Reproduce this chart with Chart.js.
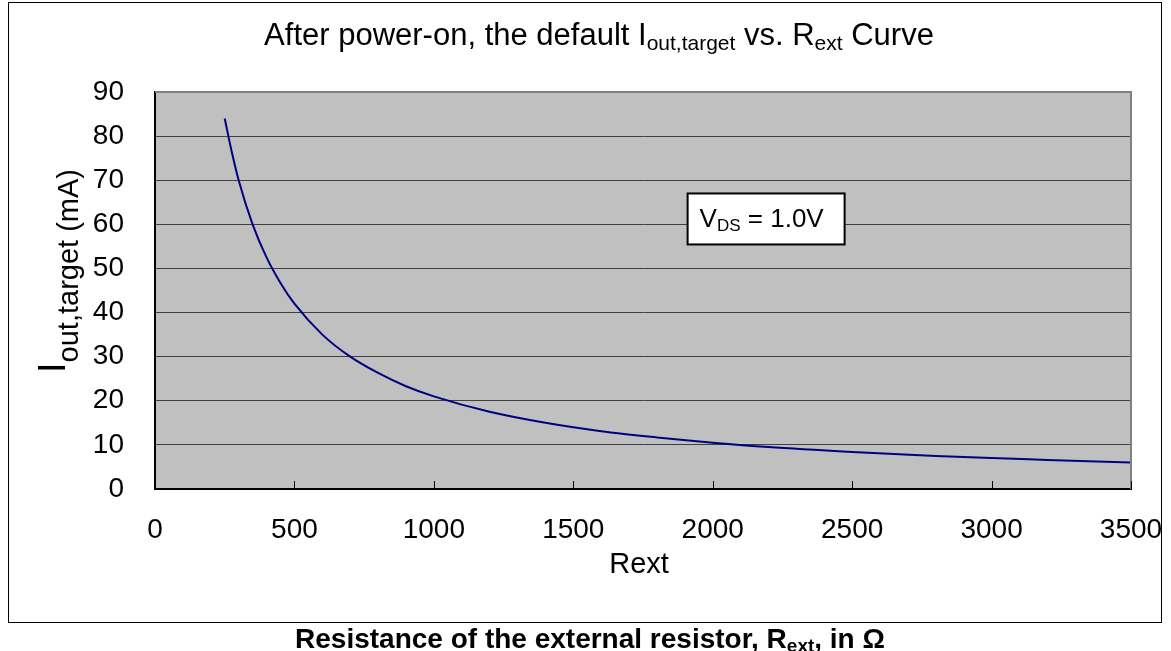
<!DOCTYPE html>
<html>
<head>
<meta charset="utf-8">
<script src="https://cdn.jsdelivr.net/npm/chart.js@4.4.1/dist/chart.umd.min.js"></script>
<style>
    body { margin: 0; background: #ffffff; }
    #wrap { width: 1171px; height: 651px; }
</style>
</head>
<body>
<div id="wrap"><canvas id="chart" width="1171" height="651"></canvas></div>
<script>
// values
const rext = [250, 275, 300, 350, 400, 450, 500, 600, 700, 800, 900, 1000, 1200, 1400, 1600, 1800, 2000, 2200, 2500, 2800, 3000, 3200, 3500];
const iout = [84, 76.5, 70, 60, 52.5, 46.7, 42, 35, 30, 26.3, 23.3, 21, 17.5, 15, 13.1, 11.7, 10.5, 9.5, 8.4, 7.5, 7, 6.6, 6];
const xTicks = [0, 500, 1000, 1500, 2000, 2500, 3000, 3500];
const yTicks = [0, 10, 20, 30, 40, 50, 60, 70, 80, 90];
const noteAt = { x: 1910, y: 67 };

const FONT = '"Liberation Sans", Arial, sans-serif';

function richWidth(ctx, parts) {
    let w = 0;
    parts.forEach(p => {
        ctx.font = (p.bold ? 'bold ' : '') + p.size + 'px ' + FONT;
        w += ctx.measureText(p.t).width;
    });
    return w;
}

function drawRich(ctx, parts, x, y, align) {
    let cx = x;
    if (align === 'center') cx = x - richWidth(ctx, parts) / 2;
    ctx.textAlign = 'left';
    ctx.textBaseline = 'alphabetic';
    parts.forEach(p => {
        ctx.font = (p.bold ? 'bold ' : '') + p.size + 'px ' + FONT;
        ctx.fillText(p.t, cx, y + (p.dy || 0));
        cx += ctx.measureText(p.t).width;
    });
}

const decor = {
    id: 'decor',
    beforeDraw(chart) {
        const ctx = chart.ctx;
        const a = chart.chartArea;
        ctx.save();
        ctx.fillStyle = '#ffffff';
        ctx.fillRect(0, 0, chart.width, chart.height);
        ctx.fillStyle = '#c0c0c0';
        ctx.fillRect(a.left, a.top, a.right - a.left, a.bottom - a.top);
        // outer frame
        ctx.strokeStyle = '#000000';
        ctx.lineWidth = 1;
        ctx.strokeRect(8.5, 2.5, 1153, 620);
        ctx.restore();
    },
    afterDatasetsDraw(chart) {
        const ctx = chart.ctx;
        const a = chart.chartArea;
        const xs = chart.scales.x;
        const ys = chart.scales.y;
        ctx.save();
        // top and right plot edges
        ctx.strokeStyle = '#808080';
        ctx.lineWidth = 2;
        ctx.beginPath();
        ctx.moveTo(a.left, a.top);
        ctx.lineTo(a.right, a.top);
        ctx.lineTo(a.right, a.bottom);
        ctx.stroke();
        // small inside tick marks on x axis
        ctx.strokeStyle = '#000000';
        ctx.lineWidth = 1;
        xTicks.forEach(v => {
            const px = Math.round(xs.getPixelForValue(v)) + 0.5;
            ctx.beginPath();
            ctx.moveTo(px, a.bottom);
            ctx.lineTo(px, a.bottom - 8);
            ctx.stroke();
        });

        // note box
        const bx = xs.getPixelForValue(noteAt.x);
        const by = ys.getPixelForValue(noteAt.y);
        ctx.fillStyle = '#ffffff';
        ctx.fillRect(bx, by, 157, 51);
        ctx.strokeStyle = '#000000';
        ctx.lineWidth = 2;
        ctx.strokeRect(bx, by, 157, 51);
        ctx.fillStyle = '#000000';
        drawRich(ctx, [
            { t: 'V', size: 26 },
            { t: 'DS', size: 17, dy: 4 },
            { t: ' = 1.0V', size: 26 }
        ], bx + 12, by + 34, 'left');

        // title
        drawRich(ctx, [
            { t: 'After power-on, the default I', size: 31 },
            { t: 'out,target', size: 21, dy: 5 },
            { t: ' vs. R', size: 31 },
            { t: 'ext', size: 21, dy: 5 },
            { t: ' Curve', size: 31 }
        ], 599, 45, 'center');

        // y axis title, rotated
        ctx.save();
        ctx.translate(0, 271);
        ctx.rotate(-Math.PI / 2);
        drawRich(ctx, [
            { t: 'I', size: 38 },
            { t: 'out,target (mA)', size: 29, dy: 13 }
        ], 0, 65, 'center');
        ctx.restore();

        // x axis title
        ctx.font = '29px ' + FONT;
        ctx.textAlign = 'center';
        ctx.textBaseline = 'alphabetic';
        ctx.fillText('Rext', 639, 573);

        // caption below frame
        drawRich(ctx, [
            { t: 'Resistance of the external resistor, R', size: 28, bold: true },
            { t: 'ext', size: 19, bold: true, dy: 4 },
            { t: ', in Ω', size: 28, bold: true }
        ], 590, 648, 'center');
        ctx.restore();
    }
};

new Chart(document.getElementById('chart').getContext('2d'), {
    type: 'scatter',
    data: {
        datasets: [{
            data: rext.map((r, i) => ({ x: r, y: iout[i] })),
            showLine: true,
            borderColor: '#000080',
            borderWidth: 2,
            pointRadius: 0,
            cubicInterpolationMode: 'monotone'
        }]
    },
    options: {
        responsive: false,
        animation: false,
        devicePixelRatio: 1,
        layout: {
            padding: { left: 0, top: 92, right: 40, bottom: 0 }
        },
        plugins: {
            legend: { display: false },
            tooltip: { enabled: false }
        },
        scales: {
            x: {
                type: 'linear',
                min: 0,
                max: 3500,
                afterFit: (scale) => {
                    scale.height = 162;
                    scale.paddingLeft = 0;
                    scale.paddingRight = 0;
                },
                afterBuildTicks: (scale) => { scale.ticks = xTicks.map(v => ({ value: v })); },
                grid: { display: false, drawTicks: false },
                border: { color: '#000000', width: 2 },
                ticks: {
                    padding: 24,
                    color: '#000000',
                    font: { family: FONT, size: 28 },
                    maxRotation: 0,
                    callback: (v) => String(v)
                }
            },
            y: {
                type: 'linear',
                min: 0,
                max: 90,
                afterFit: (scale) => {
                    scale.width = 155;
                    scale.paddingTop = 0;
                    scale.paddingBottom = 0;
                },
                afterBuildTicks: (scale) => { scale.ticks = yTicks.map(v => ({ value: v })); },
                grid: { color: '#404040', lineWidth: 1, drawTicks: false },
                border: { color: '#000000', width: 2 },
                ticks: {
                    padding: 31,
                    color: '#000000',
                    font: { family: FONT, size: 28 },
                    callback: (v) => String(v)
                }
            }
        }
    },
    plugins: [decor]
});
</script>
</body>
</html>
